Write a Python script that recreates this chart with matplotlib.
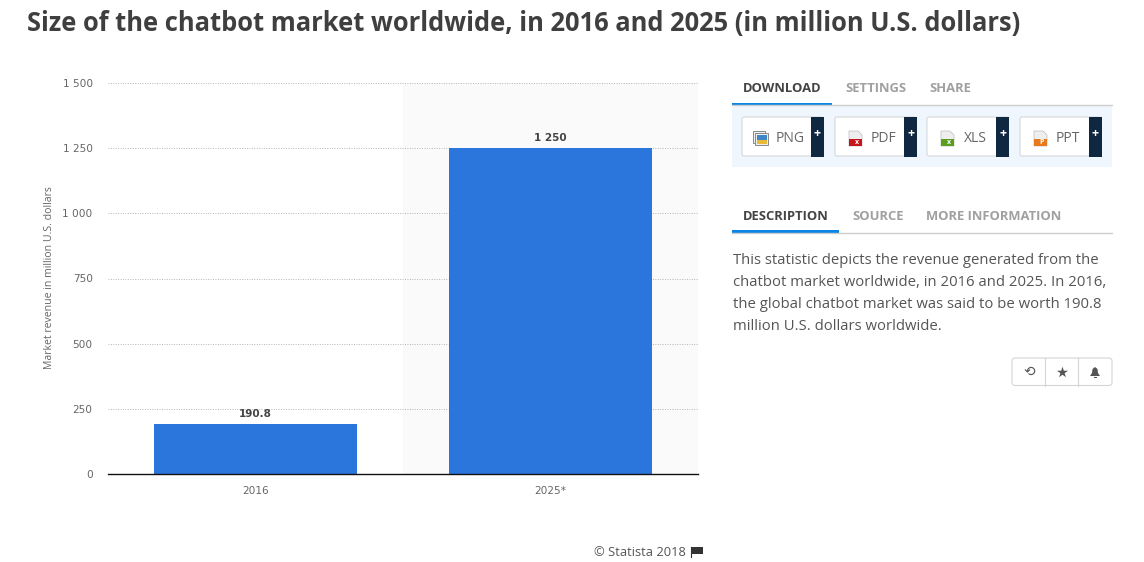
import matplotlib
matplotlib.use('Agg')
import matplotlib.pyplot as plt
from matplotlib.patches import Rectangle, FancyBboxPatch, Polygon

# chart data
categories = ['2016', '2025*']
values = [190.8, 1250]
value_labels = ['190.8', '1 250']
y_ticks = [0, 250, 500, 750, 1000, 1250, 1500]
y_tick_labels = ['0', '250', '500', '750', '1 000', '1 250', '1 500']

# side panel text
top_tabs = ['DOWNLOAD', 'SETTINGS', 'SHARE']
top_tab_x = [743, 845, 929]
low_tabs = ['DESCRIPTION', 'SOURCE', 'MORE INFORMATION']
low_tab_x = [743, 852, 926]
buttons = ['PNG', 'PDF', 'XLS', 'PPT']
button_x = [742, 835, 927, 1020]
icon_colors = ['#b8421a', '#c4161c', '#5b9e1f', '#e8791c']
description = ['This statistic depicts the revenue generated from the',
               'chatbot market worldwide, in 2016 and 2025. In 2016,',
               'the global chatbot market was said to be worth 190.8',
               'million U.S. dollars worldwide.']

W, H = 1144, 562
plt.rcParams['font.family'] = ['Open Sans', 'DejaVu Sans']
fig = plt.figure(figsize=(W / 100, H / 100), dpi=100, facecolor='white')

# main chart
ax = fig.add_axes([108 / W, (H - 474) / H, 590 / W, 391 / H])
ax.set_xlim(-0.5, 1.5)
ax.set_ylim(0, 1500)
ax.axvspan(0.5, 1.5, color='#fafafa', lw=0, zorder=0)
ax.set_yticks(y_ticks)
ax.set_yticklabels(y_tick_labels)
ax.yaxis.grid(True, color='#b5b5b5', linestyle=(0, (1, 1.5)), linewidth=0.7, zorder=1)
ax.bar(categories, values, width=0.685, color='#2a76dd', zorder=2)
for i, v in enumerate(values):
    ax.annotate(value_labels[i], (i, v), xytext=(0, 3.5), textcoords='offset points',
                ha='center', va='bottom', fontsize=7.5, fontweight='bold', color='#444444',
                family='DejaVu Sans')
for s in ['top', 'left', 'right']:
    ax.spines[s].set_visible(False)
ax.spines['bottom'].set_color('#111111')
ax.spines['bottom'].set_linewidth(1)
ax.tick_params(axis='both', length=0, labelsize=7.6, labelcolor='#666666')
ax.tick_params(axis='y', pad=11)
ax.tick_params(axis='x', pad=9)
for lab in ax.get_yticklabels() + ax.get_xticklabels():
    lab.set_family('DejaVu Sans')
ax.set_ylabel('Market revenue in million U.S. dollars', fontsize=7.55, color='#666666')
ax.yaxis.set_label_coords(-53 / 590, (474 - 278) / 391)

# page layer in pixel coordinates
ui = fig.add_axes([0, 0, 1, 1], facecolor='none')
ui.set_xlim(0, W)
ui.set_ylim(H, 0)
ui.axis('off')

ui.text(27, 23, 'Size of the chatbot market worldwide, in 2016 and 2025 (in million U.S. dollars)',
        fontsize=18.4, fontweight='bold', color='#3f3f3f', va='center', ha='left')

# download tabs
for i, (t, x) in enumerate(zip(top_tabs, top_tab_x)):
    ui.text(x, 89, t, fontsize=9.4, fontweight='bold', va='center',
            color='#444444' if i == 0 else '#a0a0a0')
ui.add_patch(Rectangle((732, 105), 380, 62, color='#f0f6fd', lw=0))
ui.plot([732, 1112], [105, 105], color='#cccccc', lw=1)
ui.add_patch(Rectangle((732, 103), 100, 2.5, color='#0a84e6', lw=0))

# export buttons
for x, t, c in zip(button_x, buttons, icon_colors):
    ui.add_patch(FancyBboxPatch((x, 117), 81, 39, boxstyle='round,pad=0,rounding_size=2',
                                fc='white', ec='#d5d8dc', lw=0.8))
    ui.add_patch(Rectangle((x + 69, 117), 13, 40, color='#0f2740', lw=0))
    ui.text(x + 75.5, 133.5, '+', color='white', fontsize=9, fontweight='bold', ha='center', va='center')
    ui.text(x + 48, 138.5, t, fontsize=10, color='#666666', ha='center', va='center')
    ix = x + 14
    if t == 'PNG':
        # stacked picture icon
        ix = x + 11
        ui.add_patch(Rectangle((ix, 131), 12, 12, fc='#eeeeee', ec='#888888', lw=0.7))
        ui.add_patch(Rectangle((ix + 2, 133), 13, 12, fc='#eeeeee', ec='#888888', lw=0.7))
        ui.add_patch(Rectangle((ix + 3.5, 134.5), 10, 5, color='#3f86c9', lw=0))
        ui.add_patch(Rectangle((ix + 3.5, 139.5), 10, 4, color='#e9b93a', lw=0))
    else:
        # file icon with coloured band
        ui.add_patch(Polygon([(ix, 131), (ix + 9, 131), (ix + 13, 135), (ix + 13, 146), (ix, 146)],
                             fc='#eeeeee', ec='#bbbbbb', lw=0.5))
        ui.add_patch(Rectangle((ix, 139), 13, 7, color=c, lw=0))
        ui.text(ix + 8, 142.5, {'PDF': 'x', 'XLS': 'x', 'PPT': 'P'}[t], color='white',
                fontsize=5, fontweight='bold', ha='center', va='center')

# description tabs
for i, (t, x) in enumerate(zip(low_tabs, low_tab_x)):
    ui.text(x, 216, t, fontsize=9.4, fontweight='bold', va='center',
            color='#444444' if i == 0 else '#a0a0a0')
ui.plot([732, 1112], [232.5, 232.5], color='#cccccc', lw=1)
ui.add_patch(Rectangle((732, 230), 107, 2.5, color='#0a84e6', lw=0))

for i, line in enumerate(description):
    ui.text(733, 260 + i * 22, line, fontsize=10.72, color='#555555', va='center')

# bookmark buttons
ui.add_patch(FancyBboxPatch((1012, 358), 100, 27.5, boxstyle='round,pad=0,rounding_size=3',
                            fc='white', ec='#d5d5d5', lw=0.8))
for x in [1045, 1078]:
    ui.plot([x, x], [358, 385.5], color='#d5d5d5', lw=0.8)
ui.text(1029, 372, '\u27f2', family='DejaVu Sans', fontsize=10, color='#555555', ha='center', va='center')
ui.scatter([1062], [371.5], s=70, marker='*', color='#555555', lw=0)
ui.add_patch(Polygon([(1095, 367), (1097.5, 369), (1098, 373), (1100, 376), (1090, 376),
                      (1092, 373), (1092.5, 369)], color='#555555', lw=0))
ui.add_patch(Rectangle((1093.5, 376.5), 3, 1.5, color='#555555', lw=0))

# footer
ui.text(594, 552, '\u00a9 Statista 2018', fontsize=9.3, color='#555555', va='center')
ui.plot([691, 691], [547, 557], color='#333333', lw=0.8)
ui.add_patch(Rectangle((691.5, 547), 11, 6.5, color='#333333', lw=0))

fig.savefig('out.png', dpi=100)
